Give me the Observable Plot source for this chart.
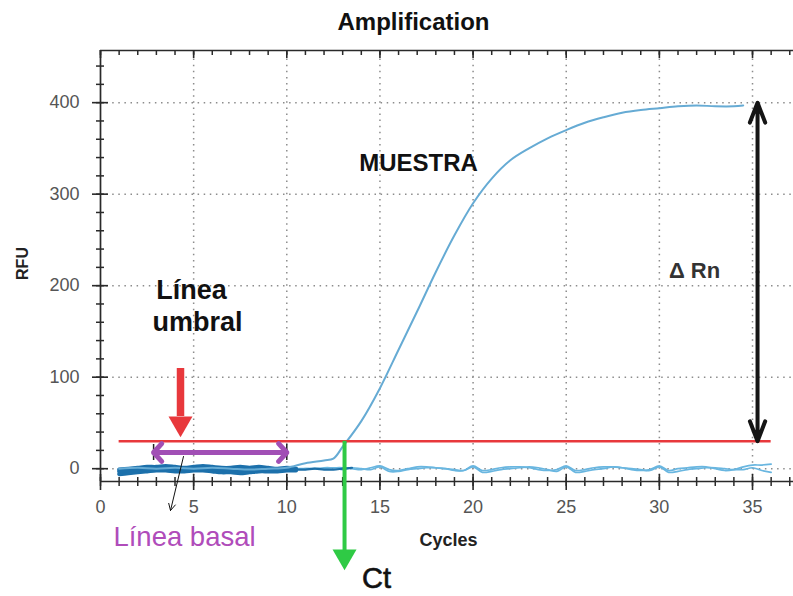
<!DOCTYPE html>
<html>
<head>
<meta charset="utf-8">
<script src="https://cdn.jsdelivr.net/npm/d3@7"></script>
<script src="https://cdn.jsdelivr.net/npm/@observablehq/plot@0.6"></script>
<style>
  body { margin: 0; background: #fff; }
  #chart svg { display: block; }
</style>
</head>
<body>
<div id="chart"></div>
<script>
// Sample amplification curve: RFU per PCR cycle
const ampCycles = [1, 2, 3, 4, 5, 6, 7, 8, 9, 10, 11, 12, 12.5, 13, 14, 15, 16, 17, 18, 19, 20, 21, 22, 23, 24, 25, 26, 27, 28, 29, 30, 31, 32, 33, 34, 34.5];
const ampRfu    = [0, 1, 0, 1, 0, 1, 0, -1, 0, 1, 6, 9, 11, 24, 52, 88, 130, 172, 215, 255, 290, 317, 337, 350, 361, 370, 378, 384, 389, 392, 394, 396, 397, 396, 396, 397];

// Background (no-template) traces over the early cycles
const baseCycles = [1, 1.5, 2, 2.5, 3, 3.5, 4, 4.5, 5, 5.5, 6, 6.5, 7, 7.5, 8, 8.5, 9, 9.5, 10, 10.5];
const baseA = [-1, 0, 1, 2, 2, 3, 2, 1, 2, 3, 2, 1, 1, 2, 1, 2, 1, 0, 1, 0];
const baseB = [-6, -5, -4, -3, -2, -2, -3, -3, -2, -2, -3, -4, -4, -5, -4, -3, -3, -3, -2, -2];
const baseC = [-3, -2, -2, -1, -1, -1, 0, -1, 0, 0, -1, -1, -2, -2, -2, -1, -1, -1, -1, -1];
const lateCycles = [10, 10.5, 11, 11.5, 12, 12.5, 13, 13.5];
const lateBase   = [-1, -1, -1, 0, -1, -1, 0, 1];

// Background traces over the later cycles
const tailCycles = [10, 10.5, 11, 11.5, 12, 12.5, 13, 13.5, 14, 14.5, 15, 15.5, 16, 16.5, 17, 17.5, 18, 18.5, 19, 19.5, 20, 20.5, 21, 21.5, 22, 22.5, 23, 23.5, 24, 24.5, 25, 25.5, 26, 26.5, 27, 27.5, 28, 28.5, 29, 29.5, 30, 30.5, 31, 31.5, 32, 32.5, 33, 33.5, 34, 34.5, 35, 35.5, 36];
const tailA = [0, 0, 0, 0, 1, 1, 1, 0, -1, 1, 3, -1, -2, 0, 2, 2, 1, 0, -2, -2, 3, -2, -1, 1, 2, 2, 1, -1, -2, -1, 3, -2, -1, 1, 2, 2, 1, -1, -2, -1, 3, -2, 0, 1, 2, 2, 0, -2, -1, 2, 4, 4, 5];
const tailB = [-1, -1, 0, 0, 0, 1, -1, 1, 0, -1, 2, -3, -3, -1, 0, 1, 1, 0, -1, -2, 2, -4, -3, -1, 0, 1, 2, 1, -1, -3, 2, -4, -3, -1, 0, 2, 1, 0, -1, -2, 2, -4, -3, -1, 0, 1, 1, 0, -1, -1, 1, -2, -4];

// Analysis settings
const threshold = 30;          // threshold line (RFU)
const thresholdFrom = 1, thresholdTo = 36;
const ct = 13.1;               // cycle where the sample crosses the threshold
const plateau = 400;           // plateau RFU
const deltaRnCycle = 35.27;
const baselineStart = 2.85, baselineEnd = 10;

// Axis ticks
const xTicks = [0, 5, 10, 15, 20, 25, 30, 35];
const yTicks = [0, 100, 200, 300, 400];

// Labels
const title = "Amplification";
const xLabel = "Cycles";
const yLabel = "RFU";

// ---- layout ----
const W = 793, H = 596;
const mL = 100, mT = 50, mR = 0, mB = 115;
const xDom = [0, 37.2], yDom = [-14, 457];
const kx = (W - mL - mR) / (xDom[1] - xDom[0]);
const ky = (H - mT - mB) / (yDom[1] - yDom[0]);
const px = p => p / kx;      // pixel length -> cycles
const py = p => p / ky;      // pixel length -> RFU
const atX = p => xDom[0] + px(p - mL);           // page x -> cycles
const atY = p => yDom[1] - py(p - mT);           // page y -> RFU

const font = "Liberation Sans, Arial, Helvetica, sans-serif";
const axisInk = "#2a2a2a";
const gridInk = "#8c8c8c";

const toRows = (xs, ys) => xs.map((x, i) => ({x, y: ys[i]}));
const amp = toRows(ampCycles, ampRfu);
const bases = [baseA, baseB, baseC].map(v => toRows(baseCycles, v));
const late = toRows(lateCycles, lateBase);
const tails = [tailA, tailB].map(v => toRows(tailCycles, v));

const xMinor = d3.range(0, 38);
const yMinor = d3.range(0, 457, 20);
const midRn = (threshold + plateau) / 2;
const midBase = (baselineStart + baselineEnd) / 2;
const baseArrowY = atY(452);

const chart = Plot.plot({
  width: W, height: H,
  marginLeft: mL, marginTop: mT, marginRight: mR, marginBottom: mB,
  x: {domain: xDom, axis: null},
  y: {domain: yDom, axis: null},
  style: {fontFamily: font, background: "#fff", overflow: "visible"},
  marks: [
    // dotted grid
    Plot.ruleX(xTicks.filter(d => d > 0), {x: d => d, y1: yDom[0], y2: yDom[1], stroke: gridInk, strokeWidth: 1.5, strokeDasharray: "1.5 4.6"}),
    Plot.ruleY(yTicks, {y: d => d, x1: 0, x2: xDom[1], stroke: gridInk, strokeWidth: 1.5, strokeDasharray: "1.5 4.6"}),

    // frame
    Plot.ruleY([yDom[0], yDom[1]], {y: d => d, x1: 0, x2: xDom[1], stroke: axisInk, strokeWidth: 1.7}),
    Plot.ruleX([0], {x: d => d, y1: yDom[0], y2: yDom[1], stroke: axisInk, strokeWidth: 1.7}),

    // x ticks (bottom crossing, top inward)
    Plot.ruleX(xMinor, {x: d => d, y1: yDom[0] + py(4), y2: yDom[0] - py(5), stroke: axisInk, strokeWidth: 1.5}),
    Plot.ruleX(xTicks, {x: d => d, y1: yDom[0] + py(7), y2: yDom[0] - py(9), stroke: axisInk, strokeWidth: 1.6}),
    Plot.ruleX(xMinor, {x: d => d, y1: yDom[1], y2: yDom[1] - py(5), stroke: axisInk, strokeWidth: 1.5}),
    Plot.ruleX(xTicks, {x: d => d, y1: yDom[1], y2: yDom[1] - py(8), stroke: axisInk, strokeWidth: 1.6}),
    // y ticks (crossing)
    Plot.ruleY(yMinor, {y: d => d, x1: -px(4), x2: px(4), stroke: axisInk, strokeWidth: 1.5}),
    Plot.ruleY(yTicks, {y: d => d, x1: -px(8), x2: px(8), stroke: axisInk, strokeWidth: 1.6}),

    // tick labels
    Plot.text(xTicks, {x: d => d, y: yDom[0], dy: 26, text: d => String(d), fontSize: 18, fill: "#555"}),
    Plot.text(yTicks, {x: 0, y: d => d, dx: -21, textAnchor: "end", text: d => String(d), fontSize: 18, fill: "#555"}),

    // axis titles and chart title
    Plot.text([title], {x: atX(413), y: atY(22), text: d => d, fontSize: 24, fontWeight: "bold", fill: "#111"}),
    Plot.text([xLabel], {x: atX(448), y: atY(540), text: d => d, fontSize: 18, fontWeight: "bold", fill: "#222"}),
    Plot.text([yLabel], {x: atX(22), y: atY(263), text: d => d, rotate: -90, fontSize: 16, fontWeight: "bold", fill: "#222"}),

    // background traces
    ...tails.map(t => Plot.line(t, {x: "x", y: "y", stroke: "#69b6e0", strokeWidth: 1.7, curve: "catmull-rom"})),
    Plot.line(late, {x: "x", y: "y", stroke: "#1c6fa8", strokeWidth: 2.2, curve: "catmull-rom"}),
    ...bases.map(t => Plot.line(t, {x: "x", y: "y", stroke: "#1c70ab", strokeWidth: 4, curve: "catmull-rom"})),

    // sample curve
    Plot.line(amp, {x: "x", y: "y", stroke: "#66abd4", strokeWidth: 2, curve: "catmull-rom"}),

    // threshold line
    Plot.ruleY([threshold], {y: d => d, x1: thresholdFrom, x2: thresholdTo, stroke: "#e8383c", strokeWidth: 2.6}),

    // Ct marker: green arrow down from the threshold crossing
    Plot.ruleX([ct], {x: d => d, y1: threshold, y2: atY(556), stroke: "#2fca45", strokeWidth: 4}),
    Plot.dot([ct], {x: d => d, y: atY(556), symbol: "triangle", rotate: 180, r: 8.9, fill: "#2fca45", stroke: "none"}),
    Plot.text(["Ct"], {x: atX(376), y: atY(578), text: d => d, fontSize: 29, fill: "#111", stroke: "#111", strokeWidth: 0.6}),

    // threshold pointer: red arrow
    Plot.ruleX([atX(180)], {x: d => d, y1: atY(368), y2: atY(416), stroke: "#e8383c", strokeWidth: 7.5}),
    Plot.dot([atX(180)], {x: d => d, y: atY(423), symbol: "triangle", rotate: 180, r: 8.9, fill: "#e8383c", stroke: "none"}),
    Plot.text(["Línea"], {x: atX(191), y: atY(290), text: d => d, fontSize: 27, fontWeight: "bold", fill: "#111"}),
    Plot.text(["umbral"], {x: atX(197), y: atY(322), text: d => d, fontSize: 27, fontWeight: "bold", fill: "#111"}),

    // baseline range: purple double arrow with end bars
    Plot.ruleX([baselineStart, baselineEnd], {x: d => d, y1: baseArrowY - py(8), y2: baseArrowY + py(8), stroke: "#222", strokeWidth: 1.5}),
    Plot.arrow([baselineStart, baselineEnd], {x1: midBase, y1: baseArrowY, x2: d => d, y2: baseArrowY, stroke: "#a14fb5", strokeWidth: 5, headLength: 3.6, headAngle: 95}),
    Plot.arrow([0], {x1: atX(183), y1: atY(456), x2: atX(170), y2: atY(510), stroke: "#111", strokeWidth: 1, headLength: 11, headAngle: 55}),
    Plot.text(["Línea basal"], {x: atX(184), y: atY(537), text: d => d, fontSize: 27.5, fill: "#b04cba"}),

    // ΔRn: black double arrow from threshold to plateau
    Plot.arrow([plateau, threshold], {x1: deltaRnCycle, y1: midRn, x2: deltaRnCycle, y2: d => d, stroke: "#151515", strokeWidth: 4, headLength: 8, headAngle: 42}),
    Plot.text(["Δ Rn"], {x: atX(694), y: atY(270), text: d => d, fontSize: 22, fontWeight: "bold", fill: "#333"}),

    // sample label
    Plot.text(["MUESTRA"], {x: atX(418), y: atY(163), text: d => d, fontSize: 24, fontWeight: "bold", fill: "#111"})
  ]
});

document.getElementById("chart").append(chart);
</script>
</body>
</html>
